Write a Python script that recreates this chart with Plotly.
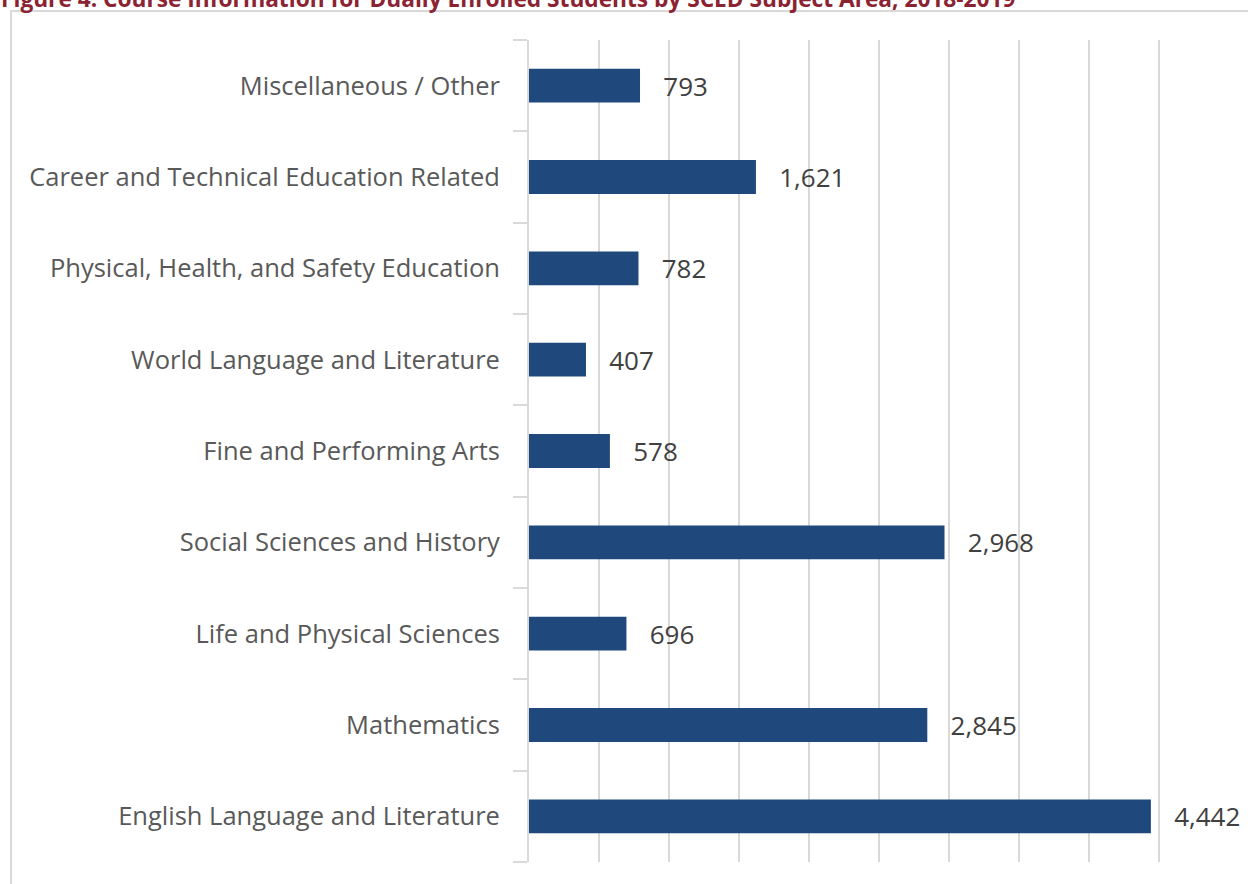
import plotly.graph_objects as go

categories = [
    "English Language and Literature",
    "Mathematics",
    "Life and Physical Sciences",
    "Social Sciences and History",
    "Fine and Performing Arts",
    "World Language and Literature",
    "Physical, Health, and Safety Education",
    "Career and Technical Education Related",
    "Miscellaneous / Other",
]
values = [4442, 2845, 696, 2968, 578, 407, 782, 1621, 793]
title_text = "Figure 4. Course Information for Dually Enrolled Students by SCED Subject Area, 2018-2019"

W, H = 1248, 884
L, R, T, B = 529, 19, 40, 22
pw, ph = W - L - R, H - T - B

def px_x(x):
    return (x - L) / pw

def px_y(y):
    return (H - B - y) / ph

FONT = "Open Sans"
BAR = "#1F497D"
GRID = "#D9D9D9"

fig = go.Figure(go.Bar(
    x=values,
    y=categories,
    orientation="h",
    marker=dict(color=BAR, line=dict(width=0)),
    width=0.37,
    text=["   " + f"{v:,}" for v in values],
    textposition="outside",
    constraintext="none",
    textfont=dict(family=FONT, size=26, color="#404040"),
    cliponaxis=False,
    hoverinfo="skip",
))

fig.update_layout(
    width=W, height=H,
    margin=dict(l=L, r=R, t=T, b=B),
    paper_bgcolor="white",
    plot_bgcolor="white",
    showlegend=False,
    font=dict(family=FONT),
    uniformtext=dict(mode=False),
    xaxis=dict(
        range=[0, 5000], dtick=500, showticklabels=False,
        showgrid=True, gridcolor=GRID, gridwidth=2,
        zeroline=False, showline=False, fixedrange=True,
    ),
    yaxis=dict(
        categoryorder="array", categoryarray=categories,
        showline=True, linecolor=GRID, linewidth=2,
        ticks="outside", tickson="boundaries", ticklen=14,
        tickcolor=GRID, tickwidth=2,
        tickfont=dict(family=FONT, size=25.5, color="#595959"),
        ticklabelstandoff=22,
        showgrid=False, fixedrange=True,
    ),
    shapes=[dict(
        type="rect", xref="paper", yref="paper",
        x0=px_x(11), x1=px_x(1300), y0=px_y(11), y1=px_y(950),
        line=dict(color=GRID, width=2), fillcolor="rgba(0,0,0,0)", layer="below",
    )],
    annotations=[dict(
        text="<b>" + title_text + "</b>",
        xref="paper", yref="paper",
        x=px_x(-1), y=px_y(16), xanchor="left", yanchor="bottom",
        showarrow=False,
        font=dict(family=FONT, size=22.7, color="#8B2332"),
    )],
)

fig.write_html("out.html", config={"displayModeBar": False},
               post_script="document.body.style.margin='0';")
